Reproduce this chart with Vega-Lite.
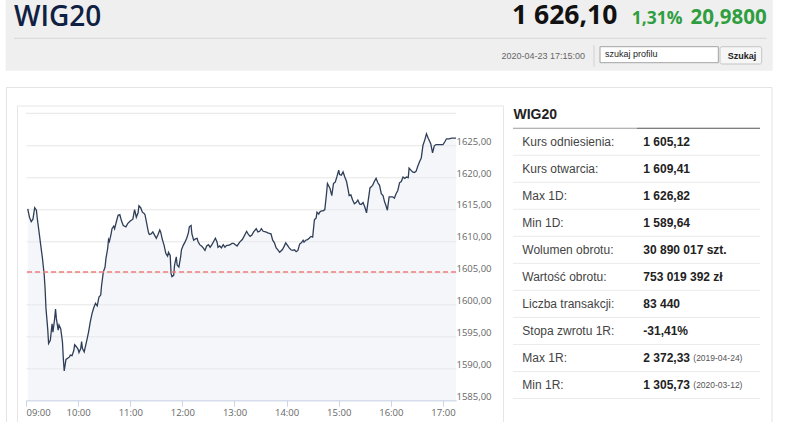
{
  "$schema": "https://vega.github.io/schema/vega-lite/v6.json",
  "width": 430,
  "height": 287,
  "autosize": {"type": "none"},
  "padding": {"left": 26, "top": 113.3, "right": 330, "bottom": 21.7},
  "background": "white",
  "config": {
    "view": {"stroke": null},
    "font": "Liberation Sans",
    "locale": {
      "number": {"decimal": ",", "thousands": " ", "grouping": [3], "currency": ["", " zł"]},
      "time": {
        "dateTime": "%A, %e %B %Y, %X",
        "date": "%d.%m.%Y",
        "time": "%H:%M:%S",
        "periods": ["AM", "PM"],
        "days": ["niedziela", "poniedziałek", "wtorek", "środa", "czwartek", "piątek", "sobota"],
        "shortDays": ["niedz.", "pon.", "wt.", "śr.", "czw.", "pt.", "sob."],
        "months": ["styczeń", "luty", "marzec", "kwiecień", "maj", "czerwiec", "lipiec", "sierpień", "wrzesień", "październik", "listopad", "grudzień"],
        "shortMonths": ["sty", "lut", "mar", "kwi", "maj", "cze", "lip", "sie", "wrz", "paź", "lis", "gru"]
      }
    }
  },
  "resolve": {"scale": {"x": "independent", "y": "independent"}},
  "layer": [
    {
      "data": {
        "values": [
          {"t": "2020-04-23T09:02", "v": 1615.0}, {"t": "2020-04-23T09:04", "v": 1613.7}, {"t": "2020-04-23T09:06", "v": 1613.0}, {"t": "2020-04-23T09:08", "v": 1613.4},
          {"t": "2020-04-23T09:10", "v": 1615.2}, {"t": "2020-04-23T09:12", "v": 1614.8}, {"t": "2020-04-23T09:13", "v": 1613.5}, {"t": "2020-04-23T09:15", "v": 1611.4},
          {"t": "2020-04-23T09:17", "v": 1609.3}, {"t": "2020-04-23T09:19", "v": 1607.2}, {"t": "2020-04-23T09:21", "v": 1604.6}, {"t": "2020-04-23T09:22", "v": 1602.5},
          {"t": "2020-04-23T09:23", "v": 1599.4}, {"t": "2020-04-23T09:25", "v": 1596.2}, {"t": "2020-04-23T09:26", "v": 1593.9}, {"t": "2020-04-23T09:28", "v": 1594.4},
          {"t": "2020-04-23T09:30", "v": 1597.0}, {"t": "2020-04-23T09:31", "v": 1595.7}, {"t": "2020-04-23T09:33", "v": 1597.8}, {"t": "2020-04-23T09:34", "v": 1599.3},
          {"t": "2020-04-23T09:35", "v": 1597.8}, {"t": "2020-04-23T09:37", "v": 1596.0}, {"t": "2020-04-23T09:38", "v": 1596.8}, {"t": "2020-04-23T09:40", "v": 1596.2},
          {"t": "2020-04-23T09:42", "v": 1594.1}, {"t": "2020-04-23T09:43", "v": 1591.5}, {"t": "2020-04-23T09:44", "v": 1589.6}, {"t": "2020-04-23T09:46", "v": 1591.4},
          {"t": "2020-04-23T09:48", "v": 1591.6}, {"t": "2020-04-23T09:50", "v": 1591.8}, {"t": "2020-04-23T09:51", "v": 1592.1}, {"t": "2020-04-23T09:53", "v": 1592.0},
          {"t": "2020-04-23T09:55", "v": 1592.8}, {"t": "2020-04-23T09:56", "v": 1593.7}, {"t": "2020-04-23T09:58", "v": 1593.4}, {"t": "2020-04-23T10:00", "v": 1593.0},
          {"t": "2020-04-23T10:01", "v": 1592.5}, {"t": "2020-04-23T10:03", "v": 1593.1}, {"t": "2020-04-23T10:04", "v": 1594.2}, {"t": "2020-04-23T10:05", "v": 1593.1},
          {"t": "2020-04-23T10:07", "v": 1592.6}, {"t": "2020-04-23T10:08", "v": 1593.2}, {"t": "2020-04-23T10:10", "v": 1594.4}, {"t": "2020-04-23T10:12", "v": 1595.7},
          {"t": "2020-04-23T10:14", "v": 1597.3}, {"t": "2020-04-23T10:16", "v": 1598.6}, {"t": "2020-04-23T10:18", "v": 1599.5}, {"t": "2020-04-23T10:20", "v": 1600.2},
          {"t": "2020-04-23T10:22", "v": 1599.8}, {"t": "2020-04-23T10:24", "v": 1601.2}, {"t": "2020-04-23T10:26", "v": 1601.5}, {"t": "2020-04-23T10:27", "v": 1603.0},
          {"t": "2020-04-23T10:29", "v": 1605.1}, {"t": "2020-04-23T10:31", "v": 1605.9}, {"t": "2020-04-23T10:32", "v": 1607.2}, {"t": "2020-04-23T10:34", "v": 1608.8},
          {"t": "2020-04-23T10:35", "v": 1610.2}, {"t": "2020-04-23T10:36", "v": 1609.9}, {"t": "2020-04-23T10:38", "v": 1611.1}, {"t": "2020-04-23T10:39", "v": 1611.9},
          {"t": "2020-04-23T10:41", "v": 1612.3}, {"t": "2020-04-23T10:42", "v": 1611.9}, {"t": "2020-04-23T10:44", "v": 1613.0}, {"t": "2020-04-23T10:46", "v": 1614.0},
          {"t": "2020-04-23T10:48", "v": 1614.1}, {"t": "2020-04-23T10:50", "v": 1613.1}, {"t": "2020-04-23T10:52", "v": 1612.4}, {"t": "2020-04-23T10:55", "v": 1612.2},
          {"t": "2020-04-23T10:57", "v": 1612.7}, {"t": "2020-04-23T11:00", "v": 1613.1}, {"t": "2020-04-23T11:03", "v": 1613.4}, {"t": "2020-04-23T11:05", "v": 1614.9},
          {"t": "2020-04-23T11:07", "v": 1613.7}, {"t": "2020-04-23T11:09", "v": 1614.4}, {"t": "2020-04-23T11:10", "v": 1615.5}, {"t": "2020-04-23T11:12", "v": 1615.2},
          {"t": "2020-04-23T11:14", "v": 1614.5}, {"t": "2020-04-23T11:16", "v": 1614.3}, {"t": "2020-04-23T11:17", "v": 1614.1}, {"t": "2020-04-23T11:19", "v": 1612.7},
          {"t": "2020-04-23T11:21", "v": 1611.3}, {"t": "2020-04-23T11:22", "v": 1611.0}, {"t": "2020-04-23T11:24", "v": 1611.1}, {"t": "2020-04-23T11:26", "v": 1611.4},
          {"t": "2020-04-23T11:28", "v": 1610.9}, {"t": "2020-04-23T11:30", "v": 1610.4}, {"t": "2020-04-23T11:32", "v": 1611.0}, {"t": "2020-04-23T11:34", "v": 1611.7},
          {"t": "2020-04-23T11:35", "v": 1611.4}, {"t": "2020-04-23T11:37", "v": 1610.2}, {"t": "2020-04-23T11:39", "v": 1609.3}, {"t": "2020-04-23T11:41", "v": 1608.0},
          {"t": "2020-04-23T11:43", "v": 1607.6}, {"t": "2020-04-23T11:44", "v": 1608.2}, {"t": "2020-04-23T11:46", "v": 1607.7}, {"t": "2020-04-23T11:47", "v": 1604.9},
          {"t": "2020-04-23T11:48", "v": 1604.4}, {"t": "2020-04-23T11:50", "v": 1604.6}, {"t": "2020-04-23T11:51", "v": 1606.2}, {"t": "2020-04-23T11:53", "v": 1607.5},
          {"t": "2020-04-23T11:54", "v": 1606.2}, {"t": "2020-04-23T11:56", "v": 1605.9}, {"t": "2020-04-23T11:58", "v": 1607.5}, {"t": "2020-04-23T11:59", "v": 1608.6},
          {"t": "2020-04-23T12:01", "v": 1609.3}, {"t": "2020-04-23T12:03", "v": 1609.8}, {"t": "2020-04-23T12:05", "v": 1610.4}, {"t": "2020-04-23T12:07", "v": 1611.3},
          {"t": "2020-04-23T12:08", "v": 1612.2}, {"t": "2020-04-23T12:10", "v": 1612.4}, {"t": "2020-04-23T12:11", "v": 1611.1}, {"t": "2020-04-23T12:13", "v": 1610.1},
          {"t": "2020-04-23T12:15", "v": 1610.3}, {"t": "2020-04-23T12:17", "v": 1610.4}, {"t": "2020-04-23T12:18", "v": 1609.9}, {"t": "2020-04-23T12:20", "v": 1609.4},
          {"t": "2020-04-23T12:22", "v": 1609.2}, {"t": "2020-04-23T12:24", "v": 1608.9}, {"t": "2020-04-23T12:26", "v": 1608.5}, {"t": "2020-04-23T12:28", "v": 1609.2},
          {"t": "2020-04-23T12:30", "v": 1609.4}, {"t": "2020-04-23T12:32", "v": 1609.0}, {"t": "2020-04-23T12:34", "v": 1609.4}, {"t": "2020-04-23T12:36", "v": 1609.9},
          {"t": "2020-04-23T12:38", "v": 1610.4}, {"t": "2020-04-23T12:40", "v": 1609.8}, {"t": "2020-04-23T12:41", "v": 1609.0}, {"t": "2020-04-23T12:43", "v": 1609.2},
          {"t": "2020-04-23T12:45", "v": 1608.9}, {"t": "2020-04-23T12:47", "v": 1609.4}, {"t": "2020-04-23T12:49", "v": 1609.0}, {"t": "2020-04-23T12:51", "v": 1609.3},
          {"t": "2020-04-23T12:53", "v": 1609.3}, {"t": "2020-04-23T12:55", "v": 1609.4}, {"t": "2020-04-23T12:57", "v": 1609.6}, {"t": "2020-04-23T12:59", "v": 1609.6},
          {"t": "2020-04-23T13:01", "v": 1609.4}, {"t": "2020-04-23T13:03", "v": 1609.2}, {"t": "2020-04-23T13:06", "v": 1609.8}, {"t": "2020-04-23T13:09", "v": 1610.2},
          {"t": "2020-04-23T13:11", "v": 1610.7}, {"t": "2020-04-23T13:14", "v": 1611.5}, {"t": "2020-04-23T13:16", "v": 1611.0}, {"t": "2020-04-23T13:18", "v": 1610.7},
          {"t": "2020-04-23T13:20", "v": 1610.9}, {"t": "2020-04-23T13:22", "v": 1611.4}, {"t": "2020-04-23T13:25", "v": 1611.9}, {"t": "2020-04-23T13:27", "v": 1611.4},
          {"t": "2020-04-23T13:29", "v": 1611.5}, {"t": "2020-04-23T13:31", "v": 1611.9}, {"t": "2020-04-23T13:33", "v": 1611.5}, {"t": "2020-04-23T13:36", "v": 1611.4},
          {"t": "2020-04-23T13:39", "v": 1611.2}, {"t": "2020-04-23T13:42", "v": 1611.1}, {"t": "2020-04-23T13:44", "v": 1610.1}, {"t": "2020-04-23T13:46", "v": 1609.7},
          {"t": "2020-04-23T13:48", "v": 1608.9}, {"t": "2020-04-23T13:50", "v": 1608.6}, {"t": "2020-04-23T13:52", "v": 1608.2}, {"t": "2020-04-23T13:55", "v": 1608.6},
          {"t": "2020-04-23T13:57", "v": 1609.1}, {"t": "2020-04-23T13:59", "v": 1609.7}, {"t": "2020-04-23T14:01", "v": 1609.3}, {"t": "2020-04-23T14:03", "v": 1608.9},
          {"t": "2020-04-23T14:05", "v": 1608.6}, {"t": "2020-04-23T14:07", "v": 1608.5}, {"t": "2020-04-23T14:09", "v": 1608.6}, {"t": "2020-04-23T14:11", "v": 1608.3},
          {"t": "2020-04-23T14:13", "v": 1608.5}, {"t": "2020-04-23T14:15", "v": 1609.5}, {"t": "2020-04-23T14:17", "v": 1609.7}, {"t": "2020-04-23T14:19", "v": 1610.1},
          {"t": "2020-04-23T14:20", "v": 1609.8}, {"t": "2020-04-23T14:22", "v": 1610.1}, {"t": "2020-04-23T14:24", "v": 1610.2}, {"t": "2020-04-23T14:26", "v": 1610.4},
          {"t": "2020-04-23T14:28", "v": 1610.7}, {"t": "2020-04-23T14:30", "v": 1610.6}, {"t": "2020-04-23T14:32", "v": 1613.3}, {"t": "2020-04-23T14:34", "v": 1613.6},
          {"t": "2020-04-23T14:35", "v": 1614.5}, {"t": "2020-04-23T14:37", "v": 1614.2}, {"t": "2020-04-23T14:38", "v": 1614.5}, {"t": "2020-04-23T14:40", "v": 1614.7},
          {"t": "2020-04-23T14:42", "v": 1614.7}, {"t": "2020-04-23T14:44", "v": 1614.9}, {"t": "2020-04-23T14:46", "v": 1617.5}, {"t": "2020-04-23T14:47", "v": 1619.0},
          {"t": "2020-04-23T14:50", "v": 1618.2}, {"t": "2020-04-23T14:52", "v": 1617.1}, {"t": "2020-04-23T14:54", "v": 1619.0}, {"t": "2020-04-23T14:56", "v": 1619.2},
          {"t": "2020-04-23T14:58", "v": 1620.1}, {"t": "2020-04-23T15:00", "v": 1621.1}, {"t": "2020-04-23T15:01", "v": 1620.4}, {"t": "2020-04-23T15:03", "v": 1620.3},
          {"t": "2020-04-23T15:05", "v": 1620.8}, {"t": "2020-04-23T15:07", "v": 1620.0}, {"t": "2020-04-23T15:09", "v": 1619.3}, {"t": "2020-04-23T15:11", "v": 1617.9},
          {"t": "2020-04-23T15:12", "v": 1617.1}, {"t": "2020-04-23T15:14", "v": 1617.2}, {"t": "2020-04-23T15:16", "v": 1616.4}, {"t": "2020-04-23T15:18", "v": 1615.8},
          {"t": "2020-04-23T15:20", "v": 1616.0}, {"t": "2020-04-23T15:22", "v": 1616.4}, {"t": "2020-04-23T15:24", "v": 1615.8}, {"t": "2020-04-23T15:26", "v": 1615.7},
          {"t": "2020-04-23T15:28", "v": 1616.0}, {"t": "2020-04-23T15:30", "v": 1615.3}, {"t": "2020-04-23T15:32", "v": 1614.4}, {"t": "2020-04-23T15:34", "v": 1616.4},
          {"t": "2020-04-23T15:36", "v": 1618.3}, {"t": "2020-04-23T15:39", "v": 1618.7}, {"t": "2020-04-23T15:41", "v": 1619.3}, {"t": "2020-04-23T15:43", "v": 1619.8},
          {"t": "2020-04-23T15:45", "v": 1619.1}, {"t": "2020-04-23T15:47", "v": 1618.7}, {"t": "2020-04-23T15:49", "v": 1617.4}, {"t": "2020-04-23T15:51", "v": 1617.1},
          {"t": "2020-04-23T15:53", "v": 1616.0}, {"t": "2020-04-23T15:54", "v": 1615.7}, {"t": "2020-04-23T15:56", "v": 1614.8}, {"t": "2020-04-23T15:58", "v": 1616.9},
          {"t": "2020-04-23T16:00", "v": 1616.9}, {"t": "2020-04-23T16:02", "v": 1616.9}, {"t": "2020-04-23T16:04", "v": 1616.7}, {"t": "2020-04-23T16:06", "v": 1617.4},
          {"t": "2020-04-23T16:08", "v": 1617.9}, {"t": "2020-04-23T16:10", "v": 1619.1}, {"t": "2020-04-23T16:12", "v": 1619.3}, {"t": "2020-04-23T16:14", "v": 1620.0},
          {"t": "2020-04-23T16:16", "v": 1619.8}, {"t": "2020-04-23T16:18", "v": 1620.0}, {"t": "2020-04-23T16:20", "v": 1619.9}, {"t": "2020-04-23T16:21", "v": 1621.4},
          {"t": "2020-04-23T16:23", "v": 1621.1}, {"t": "2020-04-23T16:25", "v": 1620.8}, {"t": "2020-04-23T16:27", "v": 1620.7}, {"t": "2020-04-23T16:29", "v": 1620.9},
          {"t": "2020-04-23T16:31", "v": 1621.7}, {"t": "2020-04-23T16:33", "v": 1622.4}, {"t": "2020-04-23T16:35", "v": 1623.0}, {"t": "2020-04-23T16:37", "v": 1625.0},
          {"t": "2020-04-23T16:39", "v": 1625.8}, {"t": "2020-04-23T16:41", "v": 1626.8}, {"t": "2020-04-23T16:43", "v": 1626.1}, {"t": "2020-04-23T16:44", "v": 1625.8},
          {"t": "2020-04-23T16:46", "v": 1625.2}, {"t": "2020-04-23T16:48", "v": 1623.8}, {"t": "2020-04-23T16:50", "v": 1624.9}, {"t": "2020-04-23T16:52", "v": 1625.1},
          {"t": "2020-04-23T16:55", "v": 1625.1}, {"t": "2020-04-23T16:57", "v": 1625.1}, {"t": "2020-04-23T17:00", "v": 1625.1}, {"t": "2020-04-23T17:02", "v": 1625.5},
          {"t": "2020-04-23T17:04", "v": 1626.0}, {"t": "2020-04-23T17:07", "v": 1626.0}, {"t": "2020-04-23T17:10", "v": 1626.1}, {"t": "2020-04-23T17:13", "v": 1626.1},
          {"t": "2020-04-23T17:15", "v": 1626.1}
        ]
      },
      "encoding": {
        "y": {
          "field": "v",
          "type": "quantitative",
          "scale": {"domain": [1585, 1630], "nice": false, "zero": false},
          "axis": {
            "orient": "right",
            "title": null,
            "values": [1585, 1590, 1595, 1600, 1605, 1610, 1615, 1620, 1625],
            "format": ".2f",
            "grid": true,
            "gridColor": "#e6e6e6",
            "domain": false,
            "ticks": false,
            "labelPadding": 0,
            "labelAlign": "left",
            "labelBaseline": "alphabetic",
            "labelOffset": -1,
            "labelFont": "Open Sans",
            "labelFontSize": 9.5,
            "labelColor": "#666666"
          }
        }
      },
      "layer": [
        {
          "mark": {"type": "area", "fill": "#e6eaf2", "fillOpacity": 0.45},
          "encoding": {
            "x": {
              "field": "t",
              "type": "temporal",
              "scale": {
                "domain": [
                  {"year": 2020, "month": 4, "date": 23, "hours": 9, "minutes": 0},
                  {"year": 2020, "month": 4, "date": 23, "hours": 17, "minutes": 15}
                ],
                "nice": false
              },
              "axis": {
                "orient": "bottom",
                "title": null,
                "grid": false,
                "format": "%H:%M",
                "tickCount": 9,
                "domainColor": "#ccd6eb",
                "tickColor": "#ccd6eb",
                "tickSize": 6,
                "labelPadding": 1.5,
                "labelFont": "Open Sans",
                "labelFontSize": 9.5,
                "labelColor": "#666666",
                "labelFlush": true
              }
            },
            "y2": {"datum": 1585}
          }
        },
        {
          "data": {"values": [{"level": 1630}]},
          "mark": {"type": "rule", "color": "#e6e6e6", "strokeWidth": 1},
          "encoding": {
            "y": {"field": "level", "type": "quantitative"}
          }
        },
        {
          "mark": {"type": "line", "color": "#2f3e58", "strokeWidth": 1.3},
          "encoding": {
            "x": {"field": "t", "type": "temporal"}
          }
        },
        {
          "data": {"values": [{"ref": 1605.12}]},
          "mark": {"type": "rule", "color": "#f07c7c", "strokeWidth": 1.5, "strokeDash": [5, 3]},
          "encoding": {
            "y": {"field": "ref", "type": "quantitative"}
          }
        }
      ]
    },
    {
      "data": {
        "values": [
          {"id": "band", "text": ""},
          {"id": "panel", "text": ""},
          {"id": "box", "text": ""},
          {"id": "rule", "text": ""},
          {"id": "divider", "text": ""},
          {"id": "input", "text": "szukaj profilu"},
          {"id": "button", "text": "Szukaj"},
          {"id": "name", "text": "WIG20"},
          {"id": "price", "text": "1 626,10"},
          {"id": "pct", "text": "1,31%"},
          {"id": "chg", "text": "20,9800"},
          {"id": "stamp", "text": "2020-04-23 17:15:00"}
        ]
      },
      "layer": [
        {
          "transform": [{"filter": "datum.id == 'band'"}],
          "mark": {"type": "rect", "fill": "#efefef"},
          "encoding": {
            "x": {"datum": 5.7, "type": "quantitative", "scale": {"domain": [0, 786], "range": [-26, 760], "nice": false, "zero": false}, "axis": null},
            "x2": {"datum": 772.7},
            "y": {"datum": 0, "type": "quantitative", "scale": {"domain": [0, 422], "range": [-113.3, 308.7], "nice": false, "zero": false}, "axis": null},
            "y2": {"datum": 70.7}
          }
        },
        {
          "transform": [{"filter": "datum.id == 'panel'"}],
          "mark": {"type": "rect", "fill": "transparent", "stroke": "#e4e4e4", "strokeWidth": 1},
          "encoding": {
            "x": {"datum": 6.5, "type": "quantitative", "axis": null},
            "x2": {"datum": 772},
            "y": {"datum": 87.5, "type": "quantitative", "axis": null},
            "y2": {"datum": 440}
          }
        },
        {
          "transform": [{"filter": "datum.id == 'box'"}],
          "mark": {"type": "rect", "fill": "transparent", "stroke": "#e6e6e6", "strokeWidth": 1},
          "encoding": {
            "x": {"datum": 17.5, "type": "quantitative", "axis": null},
            "x2": {"datum": 503.5},
            "y": {"datum": 106, "type": "quantitative", "axis": null},
            "y2": {"datum": 440}
          }
        },
        {
          "transform": [{"filter": "datum.id == 'rule'"}],
          "mark": {"type": "rule", "color": "#d6d6d6", "strokeWidth": 1},
          "encoding": {
            "x": {"datum": 14, "type": "quantitative", "axis": null},
            "x2": {"datum": 766.7},
            "y": {"datum": 38.3, "type": "quantitative", "axis": null}
          }
        },
        {
          "transform": [{"filter": "datum.id == 'divider'"}],
          "mark": {"type": "rule", "color": "#d2d2d2", "strokeWidth": 1},
          "encoding": {
            "x": {"datum": 594, "type": "quantitative", "axis": null},
            "y": {"datum": 45, "type": "quantitative", "axis": null},
            "y2": {"datum": 66.7}
          }
        },
        {
          "transform": [{"filter": "datum.id == 'input'"}],
          "mark": {"type": "rect", "fill": "white", "stroke": "#a3a3a3", "strokeWidth": 1},
          "encoding": {
            "x": {"datum": 600, "type": "quantitative", "axis": null},
            "x2": {"datum": 718.3},
            "y": {"datum": 46.7, "type": "quantitative", "axis": null},
            "y2": {"datum": 62.7}
          }
        },
        {
          "transform": [{"filter": "datum.id == 'button'"}],
          "mark": {"type": "rect", "fill": "#f6f6f6", "stroke": "#c4c4c4", "strokeWidth": 1, "cornerRadius": 2},
          "encoding": {
            "x": {"datum": 720, "type": "quantitative", "axis": null},
            "x2": {"datum": 761.7},
            "y": {"datum": 46.7, "type": "quantitative", "axis": null},
            "y2": {"datum": 64}
          }
        },
        {
          "transform": [{"filter": "datum.id == 'input'"}],
          "mark": {"type": "text", "align": "left", "baseline": "middle", "fontSize": 9, "color": "#222222"},
          "encoding": {
            "x": {"datum": 605, "type": "quantitative", "axis": null},
            "y": {"datum": 54, "type": "quantitative", "axis": null},
            "text": {"field": "text"}
          }
        },
        {
          "transform": [{"filter": "datum.id == 'button'"}],
          "mark": {"type": "text", "align": "center", "baseline": "middle", "fontSize": 9, "fontWeight": "bold", "color": "#222222"},
          "encoding": {
            "x": {"datum": 742, "type": "quantitative", "axis": null},
            "y": {"datum": 56, "type": "quantitative", "axis": null},
            "text": {"field": "text"}
          }
        },
        {
          "transform": [{"filter": "datum.id == 'name'"}],
          "mark": {"type": "text", "align": "left", "baseline": "alphabetic", "font": "Open Sans", "fontSize": 28, "fontWeight": 600, "color": "#0f2142"},
          "encoding": {
            "x": {"datum": 14, "type": "quantitative", "axis": null},
            "y": {"datum": 25.5, "type": "quantitative", "axis": null},
            "text": {"field": "text"}
          }
        },
        {
          "transform": [{"filter": "datum.id == 'price'"}],
          "mark": {"type": "text", "align": "right", "baseline": "alphabetic", "font": "Open Sans", "fontSize": 26.5, "fontWeight": "bold", "color": "#111111"},
          "encoding": {
            "x": {"datum": 617.3, "type": "quantitative", "axis": null},
            "y": {"datum": 24, "type": "quantitative", "axis": null},
            "text": {"field": "text"}
          }
        },
        {
          "transform": [{"filter": "datum.id == 'pct'"}],
          "mark": {"type": "text", "align": "left", "baseline": "alphabetic", "font": "Open Sans", "fontSize": 17.5, "fontWeight": "bold", "color": "#2f9e40"},
          "encoding": {
            "x": {"datum": 631.7, "type": "quantitative", "axis": null},
            "y": {"datum": 23.5, "type": "quantitative", "axis": null},
            "text": {"field": "text"}
          }
        },
        {
          "transform": [{"filter": "datum.id == 'chg'"}],
          "mark": {"type": "text", "align": "right", "baseline": "alphabetic", "font": "Open Sans", "fontSize": 20.5, "fontWeight": "bold", "color": "#2f9e40"},
          "encoding": {
            "x": {"datum": 766.7, "type": "quantitative", "axis": null},
            "y": {"datum": 23.5, "type": "quantitative", "axis": null},
            "text": {"field": "text"}
          }
        },
        {
          "transform": [{"filter": "datum.id == 'stamp'"}],
          "mark": {"type": "text", "align": "right", "baseline": "middle", "fontSize": 9, "color": "#666666"},
          "encoding": {
            "x": {"datum": 585, "type": "quantitative", "axis": null},
            "y": {"datum": 56, "type": "quantitative", "axis": null},
            "text": {"field": "text"}
          }
        }
      ]
    },
    {
      "data": {
        "values": [
          {"k": "Kurs odniesienia:", "v": "1 605,12", "d": ""},
          {"k": "Kurs otwarcia:", "v": "1 609,41", "d": ""},
          {"k": "Max 1D:", "v": "1 626,82", "d": ""},
          {"k": "Min 1D:", "v": "1 589,64", "d": ""},
          {"k": "Wolumen obrotu:", "v": "30 890 017 szt.", "d": ""},
          {"k": "Wartość obrotu:", "v": "753 019 392 zł", "d": ""},
          {"k": "Liczba transakcji:", "v": "83 440", "d": ""},
          {"k": "Stopa zwrotu 1R:", "v": "-31,41%", "d": ""},
          {"k": "Max 1R:", "v": "2 372,33", "d": "(2019-04-24)"},
          {"k": "Min 1R:", "v": "1 305,73", "d": "(2020-03-12)"}
        ]
      },
      "encoding": {
        "y": {
          "field": "k",
          "type": "nominal",
          "sort": null,
          "scale": {
            "type": "band",
            "domain": ["WIG20", "Kurs odniesienia:", "Kurs otwarcia:", "Max 1D:", "Min 1D:", "Wolumen obrotu:", "Wartość obrotu:", "Liczba transakcji:", "Stopa zwrotu 1R:", "Max 1R:", "Min 1R:"],
            "range": [-12.1, 285.2],
            "paddingInner": 0,
            "paddingOuter": 0
          },
          "axis": null
        }
      },
      "layer": [
        {
          "mark": {"type": "rule", "color": "#ebebeb", "strokeWidth": 1},
          "encoding": {
            "y": {"field": "k", "type": "nominal", "bandPosition": 1, "axis": null},
            "x": {"datum": 0, "type": "quantitative", "scale": {"domain": [0, 247], "range": [487, 734], "nice": false, "zero": false}, "axis": null},
            "x2": {"datum": 247}
          }
        },
        {
          "mark": {"type": "text", "align": "left", "baseline": "middle", "fontSize": 12, "color": "#444444"},
          "encoding": {
            "x": {"datum": 9.3, "type": "quantitative", "axis": null},
            "text": {"field": "k"}
          }
        },
        {
          "mark": {"type": "text", "align": "left", "baseline": "middle", "fontSize": 12, "fontWeight": "bold", "color": "#222222"},
          "encoding": {
            "x": {"datum": 130.3, "type": "quantitative", "axis": null},
            "text": {"field": "v"}
          }
        },
        {
          "transform": [{"filter": "datum.d != ''"}],
          "mark": {"type": "text", "align": "left", "baseline": "middle", "fontSize": 8.5, "color": "#555555"},
          "encoding": {
            "x": {"datum": 180.3, "type": "quantitative", "axis": null},
            "text": {"field": "d"}
          }
        },
        {
          "data": {"values": [{"k": "WIG20"}]},
          "layer": [
            {
              "mark": {"type": "text", "align": "left", "baseline": "middle", "fontSize": 14, "fontWeight": "bold", "color": "#222222"},
              "encoding": {
                "x": {"datum": 0.5, "type": "quantitative", "axis": null},
                "text": {"field": "k"}
              }
            },
            {
              "mark": {"type": "rule", "color": "#9a9a9a", "strokeWidth": 1.2},
              "encoding": {
                "y": {"field": "k", "type": "nominal", "bandPosition": 1, "axis": null},
                "x": {"datum": 0, "type": "quantitative", "axis": null},
                "x2": {"datum": 124}
              }
            },
            {
              "mark": {"type": "rule", "color": "#555555", "strokeWidth": 1.2},
              "encoding": {
                "y": {"field": "k", "type": "nominal", "bandPosition": 1, "axis": null},
                "x": {"datum": 124, "type": "quantitative", "axis": null},
                "x2": {"datum": 247}
              }
            }
          ]
        }
      ]
    }
  ]
}
